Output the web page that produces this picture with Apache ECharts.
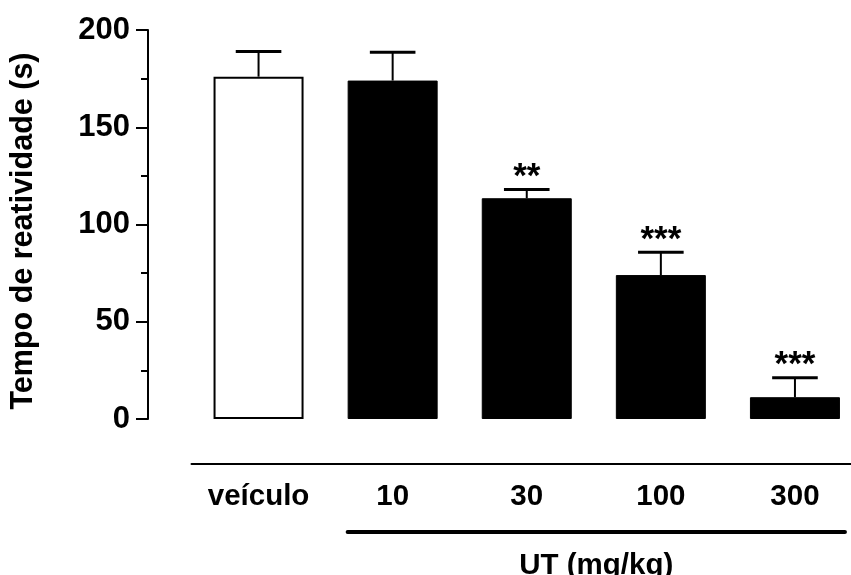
<!DOCTYPE html>
<html>
<head>
<meta charset="utf-8">
<script src="https://cdn.jsdelivr.net/npm/echarts@6/dist/echarts.min.js"></script>
<style>
    html, body { margin: 0; padding: 0; background: #fff; overflow: hidden; }
    #main { width: 862px; height: 575px; }
</style>
</head>
<body>
<div id="main"></div>
<script>
    // data
    const categories = ['veículo', '10', '30', '100', '300'];
    const means = [176, 174, 113.5, 74, 11.2];
    const errors = [13, 14.5, 4.5, 11.7, 10];
    const stars = ['', '', '**', '***', '***'];
    const yTicks = [0, 50, 100, 150, 200];

    const font = '"Liberation Sans", Arial, sans-serif';

    const chart = echarts.init(document.getElementById('main'));

    let option = {
        animation: false,
        grid: {
            left: 191.5,
            top: 30,
            width: 670.5,
            height: 389
        },
        xAxis: {
            type: 'category',
            data: categories,
            offset: 45,
            axisLine: { onZero: false, lineStyle: { color: '#000', width: 2 } },
            axisTick: { show: false },
            axisLabel: {
                color: '#000',
                fontFamily: font,
                fontWeight: 'bold',
                fontSize: 29.5,
                margin: 18
            }
        },
        yAxis: {
            type: 'value',
            min: yTicks[0],
            max: yTicks[yTicks.length - 1],
            interval: 50,
            offset: 43.5,
            name: 'Tempo de reatividade (s)',
            nameLocation: 'middle',
            nameGap: 109,
            nameTextStyle: {
                color: '#000',
                fontFamily: font,
                fontWeight: 'bold',
                fontSize: 30.5,
                padding: [0, 13, 0, 0]
            },
            splitLine: { show: false },
            axisLine: { show: true, onZero: false, lineStyle: { color: '#000', width: 2 } },
            axisTick: { show: true, length: 12, lineStyle: { color: '#000', width: 2 } },
            minorTick: { show: true, splitNumber: 2, length: 7, lineStyle: { color: '#000', width: 2 } },
            axisLabel: {
                color: '#000',
                fontFamily: font,
                fontWeight: 'bold',
                fontSize: 31,
                margin: 18
            }
        },
        series: [
            {
                type: 'bar',
                barWidth: 90,
                data: means.map((v, i) => ({
                    value: v,
                    itemStyle: i === 0
                        ? { color: '#fff', borderColor: '#000', borderWidth: 2 }
                        : { color: '#000', borderColor: '#000', borderWidth: 1 }
                }))
            },
            {
                type: 'custom',
                z: 5,
                data: means.map((v, i) => [i, v, errors[i]]),
                renderItem: function (params, api) {
                    const x = api.value(0);
                    const m = api.value(1);
                    const e = api.value(2);
                    const p0 = api.coord([x, m]);
                    const p1 = api.coord([x, m + e]);
                    const half = api.size([1, 0])[0] * 0.17;
                    const children = [
                        {
                            type: 'line',
                            shape: { x1: p0[0], y1: p0[1], x2: p1[0], y2: p1[1] },
                            style: { stroke: '#000', lineWidth: 2 }
                        },
                        {
                            type: 'line',
                            shape: { x1: p1[0] - half, y1: p1[1], x2: p1[0] + half, y2: p1[1] },
                            style: { stroke: '#000', lineWidth: 3 }
                        }
                    ];
                    const s = stars[params.dataIndex];
                    if (s) {
                        children.push({
                            type: 'text',
                            style: {
                                text: s,
                                x: p1[0],
                                y: p1[1] - 12,
                                align: 'center',
                                verticalAlign: 'middle',
                                fill: '#000',
                                font: 'bold 35px ' + font
                            }
                        });
                    }
                    return { type: 'group', children: children };
                }
            }
        ]
    };
    chart.setOption(option);

    // bracket under the UT doses
    const first = chart.convertToPixel({ xAxisIndex: 0 }, categories[1]);
    const last = chart.convertToPixel({ xAxisIndex: 0 }, categories[4]);
    const lineY = chart.convertToPixel({ yAxisIndex: 0 }, 0) + 113;
    chart.setOption({
        graphic: [
            {
                type: 'line',
                shape: { x1: first - 45, y1: lineY, x2: last + 50, y2: lineY },
                style: { stroke: '#000', lineWidth: 4, lineCap: 'round' }
            },
            {
                type: 'text',
                style: {
                    text: 'UT (mg/kg)',
                    x: (first - 45 + last + 50) / 2,
                    y: lineY + 19,
                    align: 'center',
                    verticalAlign: 'top',
                    fill: '#000',
                    font: 'bold 29.5px ' + font
                }
            }
        ]
    });

    window.addEventListener('resize', function () {
        chart.resize();
    });
</script>
</body>
</html>
